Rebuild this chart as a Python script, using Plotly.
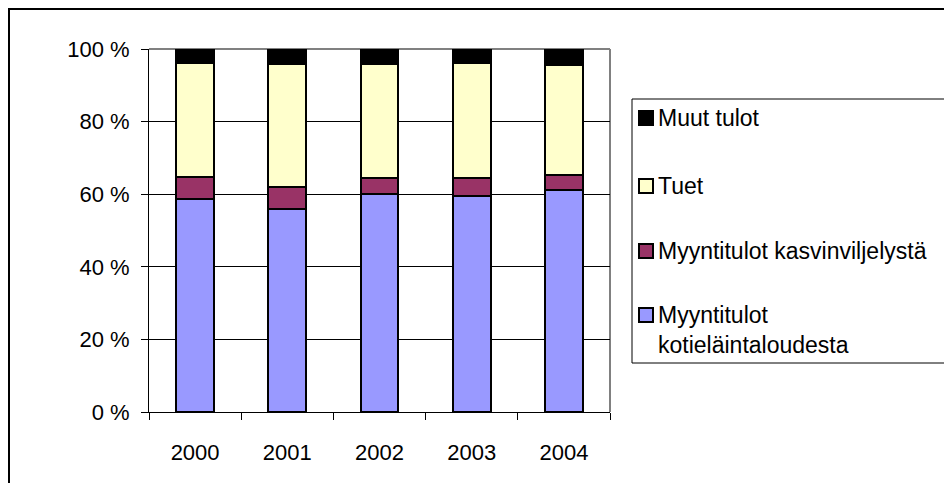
import plotly.graph_objects as go

years = ["2000", "2001", "2002", "2003", "2004"]
kotielain = [58.7, 56.0, 60.0, 59.5, 61.2]
kasvinviljely = [6.1, 6.1, 4.5, 5.0, 4.2]
tuet = [31.3, 33.7, 31.3, 31.7, 30.2]
muut = [3.9, 4.2, 4.2, 3.8, 4.4]

series_names = ["Myyntitulot<br>kotieläintaloudesta", "Myyntitulot kasvinviljelystä", "Tuet", "Muut tulot"]
series_values = [kotielain, kasvinviljely, tuet, muut]
series_colors = ["#9999FF", "#993366", "#FFFFCC", "#000000"]

y_ticks = [0, 20, 40, 60, 80, 100]
y_labels = ["0 %", "20 %", "40 %", "60 %", "80 %", "100 %"]

# the page body has an 8px margin, so the figure starts at (8, 8)
OFF = 8
W, H = 952 - OFF, 483 - OFF
# plot area in page pixels
PL, PR, PT, PB = 149, 610, 49, 412


def px_x(x):
    return (x - PL) / (PR - PL)


def px_y(y):
    return (PB - y) / (PB - PT)


fig = go.Figure()
for name, vals, col in zip(series_names, series_values, series_colors):
    fig.add_trace(
        go.Bar(
            x=years,
            y=vals,
            name=name,
            width=0.41,
            marker=dict(color=col, line=dict(color="black", width=2)),
            showlegend=False,
        )
    )

shapes = [
    # outer chart border
    dict(type="rect", xref="paper", yref="paper",
         x0=px_x(9), x1=px_x(990), y0=px_y(520), y1=px_y(9),
         line=dict(color="black", width=2), layer="below"),
    # plot area border (top and right)
    dict(type="line", xref="paper", yref="paper", x0=0, x1=1, y0=1, y1=1,
         line=dict(color="#808080", width=2), layer="below"),
    dict(type="line", xref="paper", yref="paper", x0=1, x1=1, y0=0, y1=1,
         line=dict(color="#808080", width=2), layer="below"),
    # legend box
    dict(type="rect", xref="paper", yref="paper",
         x0=px_x(632), x1=px_x(990), y0=px_y(363), y1=px_y(99),
         line=dict(color="black", width=1), fillcolor="white"),
]

annotations = []
legend_items = [
    ("Muut tulot", "#000000", 118),
    ("Tuet", "#FFFFCC", 186),
    ("Myyntitulot kasvinviljelystä", "#993366", 251),
    ("Myyntitulot<br>kotieläintaloudesta", "#9999FF", 315),
]
for text, col, cy in legend_items:
    shapes.append(dict(type="rect", xref="paper", yref="paper",
                       x0=px_x(639), x1=px_x(653), y0=px_y(cy + 7), y1=px_y(cy - 7),
                       line=dict(color="black", width=2), fillcolor=col))
    annotations.append(dict(xref="paper", yref="paper", x=px_x(656), y=px_y(cy - 15),
                            text=text, showarrow=False, xanchor="left", yanchor="top",
                            align="left", font=dict(size=23, color="black")))

fig.update_layout(
    width=W,
    height=H,
    margin=dict(l=PL - OFF, r=952 - PR, t=PT - OFF, b=483 - PB, pad=0),
    barmode="stack",
    paper_bgcolor="white",
    plot_bgcolor="white",
    font=dict(family="Liberation Sans, Arial, sans-serif", size=22, color="black"),
    shapes=shapes,
    annotations=annotations,
    xaxis=dict(
        showline=True, linecolor="black", linewidth=1,
        ticks="outside", tickson="boundaries", ticklen=7, tickcolor="black",
        showgrid=False, ticklabelstandoff=21,
    ),
    yaxis=dict(
        range=[0, 100], tickvals=y_ticks, ticktext=y_labels,
        showline=True, linecolor="black", linewidth=1,
        ticks="outside", ticklen=7, tickcolor="black",
        showgrid=True, gridcolor="black", gridwidth=1,
        zeroline=False, ticklabelstandoff=7,
    ),
)

fig.write_html("out.html")
